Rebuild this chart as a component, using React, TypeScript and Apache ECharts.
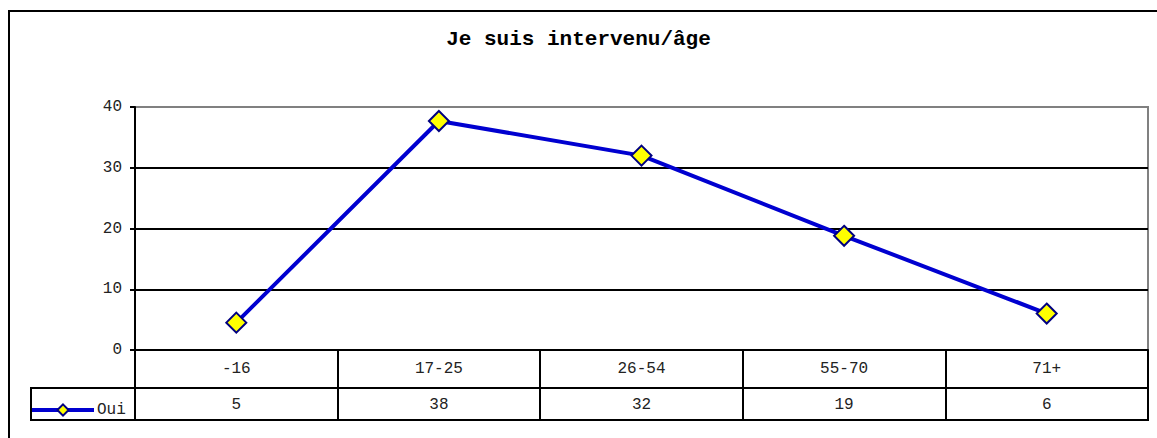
import React, { useEffect, useRef } from "react";
import * as echarts from "echarts";

const title = "Je suis intervenu/âge";
const seriesName = "Oui";
const categories = ["-16", "17-25", "26-54", "55-70", "71+"];
const values = [4.5, 37.7, 32, 18.8, 6];
const tableValues = values.map((v) => String(Math.round(v)));
const yMin = 0;
const yMax = 40;
const yInterval = 10;

const MONO = "'Liberation Mono', 'Courier New', monospace";

export default function App() {
  const ref = useRef<HTMLDivElement>(null);
  useEffect(() => {
    document.body.style.margin = "0";
    const chart = echarts.init(ref.current!, null, { renderer: "svg" });
    chart.setOption({
      animation: false,
      backgroundColor: "#ffffff",
      title: {
        text: title,
        left: "center",
        top: 24,
        textStyle: { fontFamily: MONO, fontSize: 21, fontWeight: "bold", color: "#000" },
      },
      legend: {
        left: 30,
        top: 402,
        padding: 0,
        itemWidth: 62,
        itemHeight: 14,
        itemGap: 3,
        lineStyle: { width: 4, color: "#0000d0" },
        textStyle: { fontFamily: MONO, fontSize: 16, color: "#222", padding: [0, 0, 0, -2] },
        data: [seriesName],
      },
      grid: {
        left: 135,
        right: 9,
        top: 107,
        bottom: 88,
        show: true,
        borderColor: "#808080",
        borderWidth: 2,
        backgroundColor: "transparent",
      },
      xAxis: [
        {
          type: "category",
          data: categories,
          boundaryGap: true,
          position: "bottom",
          axisLine: { lineStyle: { color: "#000", width: 2 } },
          axisTick: { show: true, length: 38, interval: 0, lineStyle: { color: "#000", width: 2 } },
          axisLabel: { interval: 0, margin: 11, fontFamily: MONO, fontSize: 16, color: "#222" },
          splitLine: { show: false },
        },
        {
          type: "category",
          data: tableValues,
          boundaryGap: true,
          position: "bottom",
          offset: 38,
          axisLine: { lineStyle: { color: "#000", width: 2 } },
          axisTick: { show: true, length: 32, interval: 0, lineStyle: { color: "#000", width: 2 } },
          axisLabel: { interval: 0, margin: 9, fontFamily: MONO, fontSize: 16, color: "#222" },
          splitLine: { show: false },
        },
      ],
      yAxis: {
        type: "value",
        min: yMin,
        max: yMax,
        interval: yInterval,
        axisLine: { show: true, lineStyle: { color: "#000", width: 2 } },
        axisTick: { show: true, length: 5, lineStyle: { color: "#000", width: 2 } },
        axisLabel: { margin: 13, fontFamily: MONO, fontSize: 16, color: "#222" },
        splitLine: {
          show: true,
          lineStyle: { color: ["#000", "#000", "#000", "#000", "#808080"], width: 2 },
        },
      },
      series: [
        {
          name: seriesName,
          type: "line",
          xAxisIndex: 0,
          data: values,
          symbol: "diamond",
          symbolSize: 20,
          lineStyle: { color: "#0000d0", width: 4 },
          itemStyle: { color: "#ffff00", borderColor: "#000080", borderWidth: 2 },
          z: 5,
        },
      ],
      graphic: [
        {
          type: "rect",
          shape: { x: 31, y: 388, width: 1117, height: 32 },
          style: { fill: "none", stroke: "#000", lineWidth: 2 },
          z: 10,
        },
        {
          type: "rect",
          shape: { x: 9, y: 11, width: 1300, height: 600 },
          style: { fill: "none", stroke: "#000", lineWidth: 2 },
          z: 10,
        },
      ],
    });
    return () => chart.dispose();
  }, []);
  return <div ref={ref} style={{ width: 1157, height: 438 }} />;
}
